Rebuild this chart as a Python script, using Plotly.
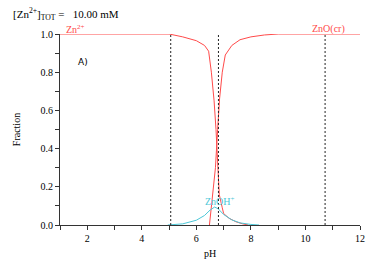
import plotly.graph_objects as go

# Data
ph_zn = [1.0, 5.0, 5.5, 6.0, 6.3, 6.45, 6.55, 6.65, 6.72, 6.78, 6.84, 6.95, 7.0, 7.2, 7.45, 7.7, 7.9]
frac_zn = [1.0, 1.0, 0.985, 0.965, 0.94, 0.91, 0.8, 0.65, 0.5, 0.33, 0.16, 0.09, 0.06, 0.035, 0.017, 0.006, 0.0]

ph_zno = [6.48, 6.6, 6.7, 6.78, 6.85, 6.95, 7.06, 7.3, 7.6, 8.0, 8.5, 9.0, 12.0]
frac_zno = [0.0, 0.15, 0.3, 0.5, 0.66, 0.8, 0.89, 0.94, 0.97, 0.985, 0.995, 1.0, 1.0]

ph_znoh = [4.95, 5.5, 6.0, 6.3, 6.5, 6.67, 6.8, 7.0, 7.3, 7.6, 8.0, 8.3]
frac_znoh = [0.0, 0.006, 0.025, 0.05, 0.078, 0.094, 0.085, 0.055, 0.027, 0.011, 0.003, 0.0]

dashed_ph = [5.06, 6.81, 10.72]

RED = "#ff4a4a"
CYAN = "#4cc8d8"
SERIF = "Liberation Serif"

fig = go.Figure()
fig.add_trace(go.Scatter(x=ph_zn, y=frac_zn, mode="lines", line=dict(color=RED, width=1), showlegend=False))
fig.add_trace(go.Scatter(x=ph_zno, y=frac_zno, mode="lines", line=dict(color=RED, width=1), showlegend=False))
fig.add_trace(go.Scatter(x=ph_znoh, y=frac_znoh, mode="lines", line=dict(color=CYAN, width=1), showlegend=False))

for p in dashed_ph:
    fig.add_trace(go.Scatter(x=[p, p], y=[0, 1], mode="lines",
                             line=dict(color="#222222", width=1, dash="2px,2px"), showlegend=False))

fig.add_annotation(x=1.15, y=1.0, xref="x", yref="y", text="Zn<sup>2+</sup>", showarrow=False,
                   xanchor="left", yanchor="bottom", font=dict(family=SERIF, size=10, color=RED), yshift=-3)
fig.add_annotation(x=10.85, y=1.0, xref="x", yref="y", text="ZnO(cr)", showarrow=False,
                   xanchor="center", yanchor="bottom", font=dict(family=SERIF, size=10, color=RED), yshift=-3)
fig.add_annotation(x=6.85, y=0.085, xref="x", yref="y", text="ZnOH<sup>+</sup>", showarrow=False,
                   xanchor="center", yanchor="bottom", font=dict(family=SERIF, size=10, color=CYAN))
fig.add_annotation(x=1.6, y=0.855, xref="x", yref="y", text="A)", showarrow=False,
                   xanchor="left", yanchor="middle", font=dict(family="DejaVu Sans", size=9, color="#000000"))
fig.add_annotation(x=-50 / 304, y=1.0 + (34 - 13) / 202, xref="paper", yref="paper",
                   text="[Zn<sup>2+</sup>]<sub>TOT</sub> =&nbsp;&nbsp;&nbsp;10.00 mM",
                   showarrow=False, xanchor="left", yanchor="middle",
                   font=dict(family=SERIF, size=11, color="#000000"))

fig.update_layout(
    width=377, height=269,
    margin=dict(l=60, r=13, t=34, b=33),
    paper_bgcolor="white", plot_bgcolor="white",
    font=dict(family=SERIF, size=10, color="#000000"),
    xaxis=dict(range=[1, 12], tickvals=[2, 4, 6, 8, 10, 12], ticks="outside", ticklen=4,
               tickcolor="#333333", showline=True, linecolor="#333333", linewidth=1,
               showgrid=False, zeroline=False,
               minor=dict(tickvals=[1, 3, 5, 7, 9, 11], ticks="outside", ticklen=4, tickcolor="#333333"),
               title=dict(text="pH", font=dict(family=SERIF, size=10), standoff=6),
               tickfont=dict(family=SERIF, size=10)),
    yaxis=dict(range=[0, 1], tickvals=[0, 0.2, 0.4, 0.6, 0.8, 1.0], tickformat=".1f",
               ticks="outside", ticklen=4, tickcolor="#333333", showline=True, linecolor="#333333",
               linewidth=1, showgrid=False, zeroline=False,
               minor=dict(tickvals=[0.1, 0.3, 0.5, 0.7, 0.9], ticks="outside", ticklen=4, tickcolor="#333333"),
               title=dict(text="Fraction", font=dict(family=SERIF, size=10), standoff=18),
               tickfont=dict(family=SERIF, size=10)),
)

fig.write_html("out.html", config={"displayModeBar": False},
               post_script="document.body.style.margin='0px';")
